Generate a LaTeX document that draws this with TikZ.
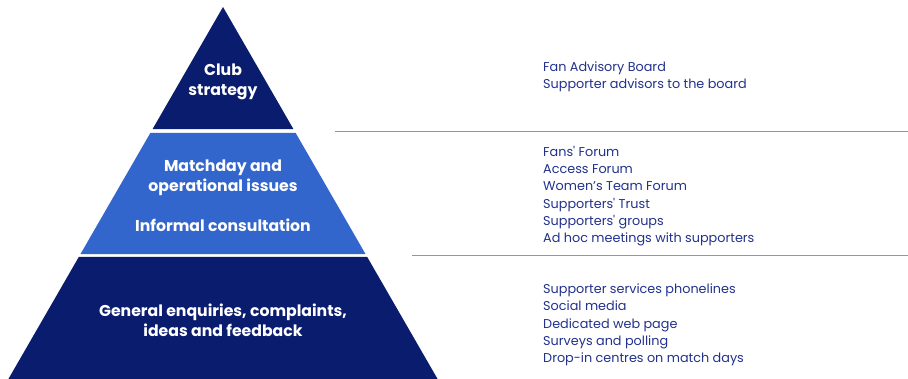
\documentclass[tikz,border=0pt]{standalone}
\usepackage{fontspec}
\setmainfont{Poppins}
\usepackage{xcolor}
\usetikzlibrary{calc}

\definecolor{tiernavy}{HTML}{0A1C6E}
\definecolor{tierblue}{HTML}{3366CC}
\definecolor{listtext}{HTML}{22318C}
\definecolor{rulecol}{HTML}{8A93C9}

\begin{document}
\begin{tikzpicture}[x=1pt, y=-1pt,
  tierlabel/.style={text=white, font=\fontsize{15.7}{20}\selectfont\bfseries, align=center},
  channels/.style={text=listtext, font=\fontsize{12.8}{17.3}\selectfont, align=left, anchor=west, inner sep=0pt},
  divider/.style={rulecol, line width=0.9pt}]
  \useasboundingbox (0, 0) rectangle (908, 379);

  % Corners of the pyramid
  \coordinate (apex) at (223, 7);
  \coordinate (bl) at (8.4, 379);
  \coordinate (br) at (437.6, 379);

  % Top tier
  \fill[tiernavy] (apex) -- ($(apex)!0.328!(br)$) -- ($(apex)!0.328!(bl)$) -- cycle;
  \node[tierlabel] (club) at (223, 82) {Club\\strategy};

  % Middle tier
  \fill[tierblue] ($(apex)!0.3387!(bl)$) -- ($(apex)!0.3387!(br)$)
    -- ($(apex)!0.664!(br)$) -- ($(apex)!0.664!(bl)$) -- cycle;
  \node[tierlabel] (matchday) at (223, 177.5) {Matchday and\\operational issues};
  \node[tierlabel] (informal) at (223, 225.5) {Informal consultation};

  % Bottom tier
  \fill[tiernavy] ($(apex)!0.672!(bl)$) -- ($(apex)!0.672!(br)$) -- (br) -- (bl) -- cycle;
  \node[tierlabel] (general) at (223, 320) {General enquiries, complaints,\\ideas and feedback};

  % Dividers between the groups
  \draw[divider] (335, 131.3) -- (908, 131.3);
  \draw[divider] (412, 255.7) -- (908, 255.7);

  % Channels for each tier
  \node[channels] (boardlist) at (543, 76.5) {Fan Advisory Board\\Supporter advisors to the board};
  \node[channels] (forumlist) at (543, 196) {Fans\textquotesingle{} Forum\\Access Forum\\Women’s Team Forum\\Supporters\textquotesingle{} Trust\\Supporters\textquotesingle{} groups\\Ad hoc meetings with supporters};
  \node[channels] (contactlist) at (543, 325) {Supporter services phonelines\\Social media\\Dedicated web page\\Surveys and polling\\Drop-in centres on match days};
\end{tikzpicture}
\end{document}
